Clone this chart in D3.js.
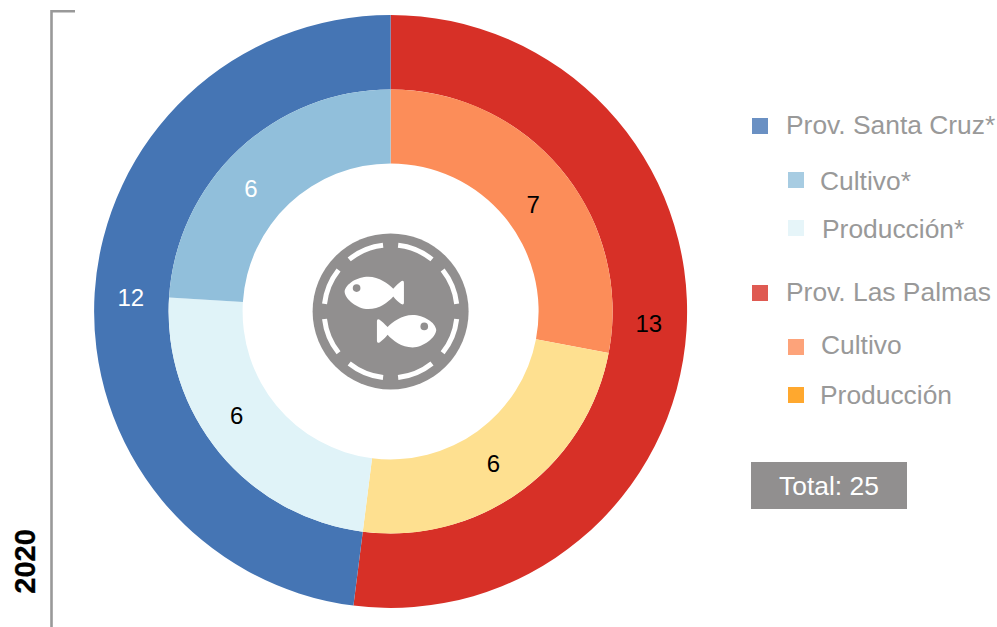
<!DOCTYPE html>
<html><head><meta charset="utf-8">
<script src="https://cdn.jsdelivr.net/npm/d3@7"></script>
<style>html,body{margin:0;background:#fff}svg{display:block}text{font-family:"Liberation Sans",Arial,sans-serif}</style>
</head><body><svg id="c" width="997" height="627"></svg>
<script>
const provinces = ["Prov. Las Palmas", "Prov. Santa Cruz*"];
const provinceValues = [13, 12];
const provinceColors = ["#d73027", "#4575b4"];
const activities = ["Cultivo", "Producción", "Producción*", "Cultivo*"];
const activityValues = [7, 6, 6, 6];
const activityColors = ["#fc8d59", "#fee090", "#e0f3f8", "#91bfdb"];
const year = "2020";
const totalLabel = "Total: 25";
const legendNames = ["Prov. Santa Cruz*", "Cultivo*", "Producción*", "Prov. Las Palmas", "Cultivo", "Producción"];
const legendColors = ["#6a90c3", "#a7cce2", "#e6f5f9", "#df5a52", "#fda37a", "#ffa82e"];

const svg = d3.select("#c");
const grey = "#999999", iconGrey = "#918f8f";
const cx = 390.6, cy = 311.4;

// bracket on the left
svg.append("path").attr("d", "M75,11.3H51.5V627").attr("fill", "none").attr("stroke", grey).attr("stroke-width", 2.6);
svg.append("text").attr("transform", "translate(35,561.5) rotate(-90)").attr("text-anchor", "middle")
  .attr("font-size", 29).attr("font-weight", "bold").attr("fill", "#000").attr("stroke", "#000").attr("stroke-width", 0.3).text(year);

const pie = d3.pie().sort(null).value(d => d);
const g = svg.append("g").attr("transform", `translate(${cx},${cy})`);
function ring(values, colors, inner, outer, names, labelCfg) {
  const arc = d3.arc().innerRadius(inner).outerRadius(outer);
  const arcs = pie(values);
  g.append("g").selectAll("path").data(arcs).join("path")
    .attr("d", arc).attr("fill", (d, i) => colors[i]);
  g.append("g").selectAll("text").data(arcs).join("text")
    .attr("text-anchor", "middle").attr("font-size", 24)
    .attr("x", (d, i) => arc.centroid(d)[0] + labelCfg[i][0])
    .attr("y", (d, i) => arc.centroid(d)[1] + labelCfg[i][1] + 8)
    .attr("fill", (d, i) => labelCfg[i][2])
    .text(d => d.data);
}
ring(provinceValues, provinceColors, 222, 296.5, provinces, [[-0.5, -3.5, "#000"], [-1, 2.5, "#fff"]]);
ring(activityValues, activityColors, 148, 222, activities, [[0, 12, "#000"], [-6, 3, "#000"], [-11.5, -13, "#000"], [-13, 12, "#fff"]]);

// centre icon
const icon = svg.append("g").attr("transform", `translate(${cx},${cy})`);
icon.append("circle").attr("r", 78).attr("fill", iconGrey);
const dashArc = d3.arc().innerRadius(66.5).outerRadius(66.5);
d3.range(8).forEach(i => {
  icon.append("path")
    .attr("d", dashArc({startAngle: (i * 45 + 6.5) * Math.PI / 180, endAngle: (i * 45 + 38.5) * Math.PI / 180}))
    .attr("fill", "none").attr("stroke", "#fff").attr("stroke-width", 5).attr("stroke-linecap", "round");
});
const fishPath = "M134,199C136,176 172,154 205,154C238,154 265,175 280,190C288,181 298,172 305,167Q312,164 312,172L312,232Q312,240 304,236C296,230 287,222 280,213C265,230 238,251 205,251C172,251 136,222 134,199Z";
function fish(t) {
  const f = icon.append("g").attr("transform", t);
  f.append("path").attr("d", fishPath).attr("fill", "#fff");
  f.append("circle").attr("cx", 170).attr("cy", 188).attr("r", 11.5).attr("fill", iconGrey);
}
fish("scale(0.3333) translate(-272,-258)");
fish("scale(0.3333) translate(271,-143) scale(-1,1)");

// legend
const legendX = [752, 788, 788, 752, 788, 788];
const legendY = [118, 172, 220, 285, 339, 387];
const legendTextX = [786, 820, 822, 786, 821, 820];
const legendBase = [134, 190, 238, 301, 354, 404];
const lg = svg.append("g");
lg.selectAll("rect").data(legendNames).join("rect")
  .attr("x", (d, i) => legendX[i]).attr("y", (d, i) => legendY[i])
  .attr("width", 16).attr("height", 16).attr("fill", (d, i) => legendColors[i]);
lg.selectAll("text").data(legendNames).join("text")
  .attr("x", (d, i) => legendTextX[i]).attr("y", (d, i) => legendBase[i])
  .attr("font-size", 26.4).attr("fill", grey).text(d => d);

svg.append("rect").attr("x", 751).attr("y", 462).attr("width", 156).attr("height", 47).attr("fill", iconGrey);
svg.append("text").attr("x", 829).attr("y", 494.5).attr("text-anchor", "middle")
  .attr("font-size", 26.4).attr("fill", "#fff").text(totalLabel);
</script></body></html>
